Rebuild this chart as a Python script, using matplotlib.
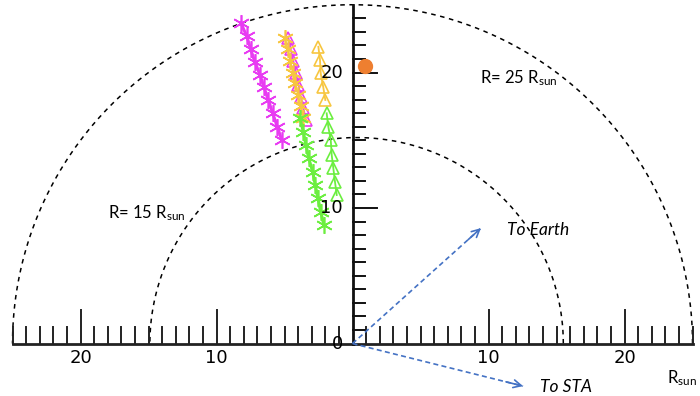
import numpy as np
import matplotlib.pyplot as plt

plt.rcParams['mathtext.fontset'] = 'custom'
plt.rcParams['mathtext.rm'] = 'Lato'
plt.rcParams['mathtext.it'] = 'Lato:italic'

# track points (x, y in R_sun)
mag_star_x = [-8.22, -7.78, -7.49, -7.17, -6.80, -6.51, -6.19, -5.87, -5.53, -5.21]
mag_star_y = [23.68, 22.69, 21.71, 20.75, 19.82, 18.91, 17.97, 16.99, 16.00, 15.02]

mag_tri_x = [-4.72, -4.54, -4.35, -4.16, -3.98, -3.80, -3.61, -3.42]
mag_tri_y = [22.57, 21.70, 20.83, 19.96, 19.09, 18.22, 17.35, 16.49]

org_star_x = [-4.96, -4.77, -4.58, -4.39, -4.20, -4.01, -3.82, -3.63]
org_star_y = [22.55, 21.70, 20.85, 20.00, 19.20, 18.35, 17.50, 16.65]

org_tri_x = [-2.51, -2.39, -2.34, -2.15, -2.00]
org_tri_y = [21.90, 20.92, 19.94, 18.91, 17.97]

grn_tri_x = [-1.90, -1.78, -1.60, -1.53, -1.41, -1.29, -1.16]
grn_tri_y = [16.99, 16.00, 15.02, 13.91, 12.93, 11.94, 10.96]

grn_star_x = [-3.86, -3.62, -3.42, -3.22, -2.93, -2.74, -2.54, -2.34, -2.10]
grn_star_y = [16.62, 15.63, 14.65, 13.67, 12.68, 11.70, 10.72, 9.73, 8.75]

sun_dot = (0.92, 20.48)
earth_dir = (9.45, 8.52)
sta_dir = (12.54, -3.14)

circle_r = [25, 15.2]
circle_cx = [0, 0.3]

x_major = [-20, -10, 10, 20]
y_major = [10, 20]

fig = plt.figure(figsize=(7, 3.96), dpi=100)
ax = fig.add_axes([0, 0, 1, 1])
ax.set_xlim(-25.92, 25.55)
ax.set_ylim(-3.87, 25.35)
ax.axis('off')

# dashed half circles
th = np.linspace(0, np.pi, 300)
for r, cx in zip(circle_r, circle_cx):
    ax.plot(cx + r*np.cos(th), r*np.sin(th), ls=(0, (3, 3)), color='k', lw=1.1)

# horizontal axis with upward ticks
ax.plot([-25, 25], [0, 0], color='#222222', lw=2)
for t in range(-25, 26):
    if t == 0:
        continue
    h = 2.44 if t in x_major else 1.25
    ax.plot([t, t], [0, h], color='#222222', lw=1.4)
for t in x_major:
    ax.text(t, -1.1, str(abs(t)), ha='center', va='center', fontsize=13)

# vertical axis with ticks to the right
ax.plot([0, 0], [0, 25], color='#111111', lw=2)
for t in range(1, 25):
    w = 1.8 if t in y_major else 0.9
    ax.plot([0, w], [t, t], color='#111111', lw=1.4)
for t in [0] + y_major:
    ax.text(-0.7, t, str(t), ha='right', va='center', fontsize=13)

# tracks
ast = (6, 2, 0)
ax.plot(mag_star_x, mag_star_y, color='#e83cf2', lw=2.2, marker=ast, ms=12, mew=1.2)
ax.plot(mag_tri_x, mag_tri_y, color='#e83cf2', lw=1.3, marker='^', ms=8, mfc='none', mew=1.2)
ax.plot(org_star_x, org_star_y, color='#f7c640', lw=1.3, marker=ast, ms=12, mew=1.2)
ax.plot(org_tri_x, org_tri_y, color='#f7c640', lw=1.3, marker='^', ms=9, mfc='none', mew=1.2)
ax.plot(grn_tri_x, grn_tri_y, color='#6cee40', lw=1.3, marker='^', ms=9, mfc='none', mew=1.2)
ax.plot(grn_star_x, grn_star_y, color='#6cee40', lw=2.2, marker=ast, ms=12, mew=1.2)

ax.plot(*sun_dot, 'o', color='#ee7f30', ms=10)

# arrows to earth and STA
for d in [earth_dir, sta_dir]:
    ax.plot([0, d[0]], [0, d[1]], ls=(0, (3, 2)), color='#4472c4', lw=1.2)
    ax.annotate('', xy=d, xytext=(d[0]*0.9, d[1]*0.9),
                arrowprops=dict(arrowstyle='->', color='#4472c4', lw=1.2,
                                mutation_scale=14, shrinkA=0, shrinkB=0))

ax.text(9.375, 19.2, r'R= 25 R$_{\mathrm{sun}}$', fontsize=12, family='Lato', va='baseline')
ax.text(-17.96, 9.24, r'R= 15 R$_{\mathrm{sun}}$', fontsize=12, family='Lato', va='baseline')
ax.text(11.34, 8.0, 'To Earth', fontsize=12.5, family='Lato', style='italic', va='baseline')
ax.text(13.79, -3.56, 'To STA', fontsize=12.5, family='Lato', style='italic', va='baseline')
ax.text(23.15, -2.94, r'R$_{\mathrm{sun}}$', fontsize=12, family='Lato', va='baseline')

fig.savefig('out.png', dpi=100)
